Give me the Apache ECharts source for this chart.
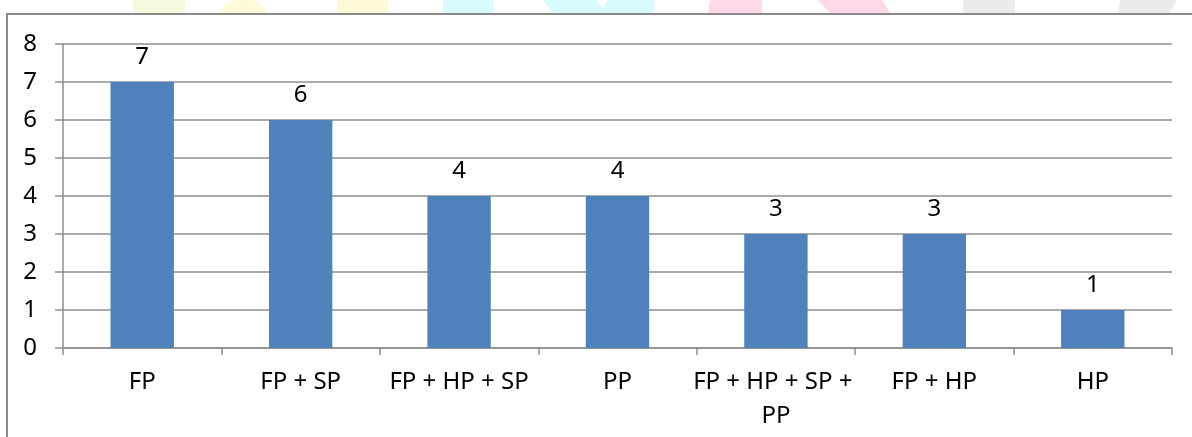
<!DOCTYPE html>
<html>
<head>
<meta charset="utf-8">
<title>Kombinasi</title>
<script src="https://cdn.jsdelivr.net/npm/echarts@6/dist/echarts.min.js"></script>
<style>
  html, body { margin: 0; padding: 0; background: #ffffff; }
  #chart { width: 1192px; height: 437px; }
</style>
</head>
<body>
<div id="chart"></div>
<script>
// Categories and counts
const categories = ['FP', 'FP + SP', 'FP + HP + SP', 'PP', 'FP + HP + SP + PP', 'FP + HP', 'HP'];
const counts = [7, 6, 4, 4, 3, 3, 1];
const yTicks = [0, 1, 2, 3, 4, 5, 6, 7, 8];

const FONT = '"Noto Sans", "Open Sans", sans-serif';
const FONT_SIZE = 24;
const GRID_COLOR = '#8e8e8e';

const chart = echarts.init(document.getElementById('chart'), null, { renderer: 'canvas' });

// faint coloured band pieces along the very top edge
const bandPieces = [
  { pts: [[133, 0], [185, 0], [185, 13], [133, 13]], color: '#f4f9dc' },
  { pts: [[226, 3], [236, 0], [251, 0], [261, 3], [267, 13], [220, 13]], color: '#fffbd8' },
  { pts: [[337, 0], [388, 0], [388, 13], [337, 13]], color: '#fffad6' },
  { pts: [[443, 0], [493, 0], [493, 13], [443, 13]], color: '#d8fbfd' },
  { pts: [[543, 0], [597, 0], [603, 8], [608, 0], [655, 0], [653, 13], [553, 13]], color: '#d8fbfd' },
  { pts: [[710, 0], [762, 0], [762, 13], [708, 13]], color: '#ffd9ea' },
  { pts: [[818, 0], [882, 0], [890, 13], [830, 13]], color: '#ffd9ea' },
  { pts: [[963, 0], [1015, 0], [1015, 13], [963, 13]], color: '#ebebeb' },
  { pts: [[1120, 0], [1177, 0], [1170, 13], [1118, 13]], color: '#ebebeb' }
];

const graphics = bandPieces.map(p => ({
  type: 'polygon',
  silent: true,
  z: -10,
  shape: { points: p.pts },
  style: { fill: p.color }
}));

// outer frame (left and top edges)
graphics.push({
  type: 'polyline',
  silent: true,
  z: 10,
  shape: { points: [[7, 437], [7, 14], [1192, 14]] },
  style: { stroke: '#8a8a8a', lineWidth: 2, fill: null }
});

chart.setOption({
  animation: false,
  backgroundColor: '#ffffff',
  graphic: graphics,
  grid: { left: 63, right: 20, top: 44, bottom: 89, containLabel: false },
  xAxis: {
    type: 'category',
    data: categories,
    axisLine: { show: true, lineStyle: { color: GRID_COLOR, width: 1.5 } },
    axisTick: { show: true, length: 7, lineStyle: { color: GRID_COLOR, width: 1.5 } },
    axisLabel: {
      interval: 0,
      margin: 17,
      color: '#000000',
      fontFamily: FONT,
      fontSize: FONT_SIZE,
      lineHeight: 34,
      width: 168,
      overflow: 'break'
    },
    splitLine: { show: false }
  },
  yAxis: {
    type: 'value',
    min: yTicks[0],
    max: yTicks[yTicks.length - 1],
    interval: 1,
    axisLine: { show: true, lineStyle: { color: GRID_COLOR, width: 1.5 } },
    axisTick: { show: true, length: 8, lineStyle: { color: GRID_COLOR, width: 1.5 } },
    axisLabel: {
      margin: 26,
      color: '#000000',
      fontFamily: FONT,
      fontSize: FONT_SIZE
    },
    splitLine: { show: true, lineStyle: { color: GRID_COLOR, width: 1.5 } }
  },
  series: [{
    type: 'bar',
    data: counts,
    barWidth: '40%',
    itemStyle: { color: '#4f81bd' },
    label: {
      show: true,
      position: 'top',
      distance: 13,
      color: '#000000',
      fontFamily: FONT,
      fontSize: FONT_SIZE
    }
  }]
});
</script>
</body>
</html>
